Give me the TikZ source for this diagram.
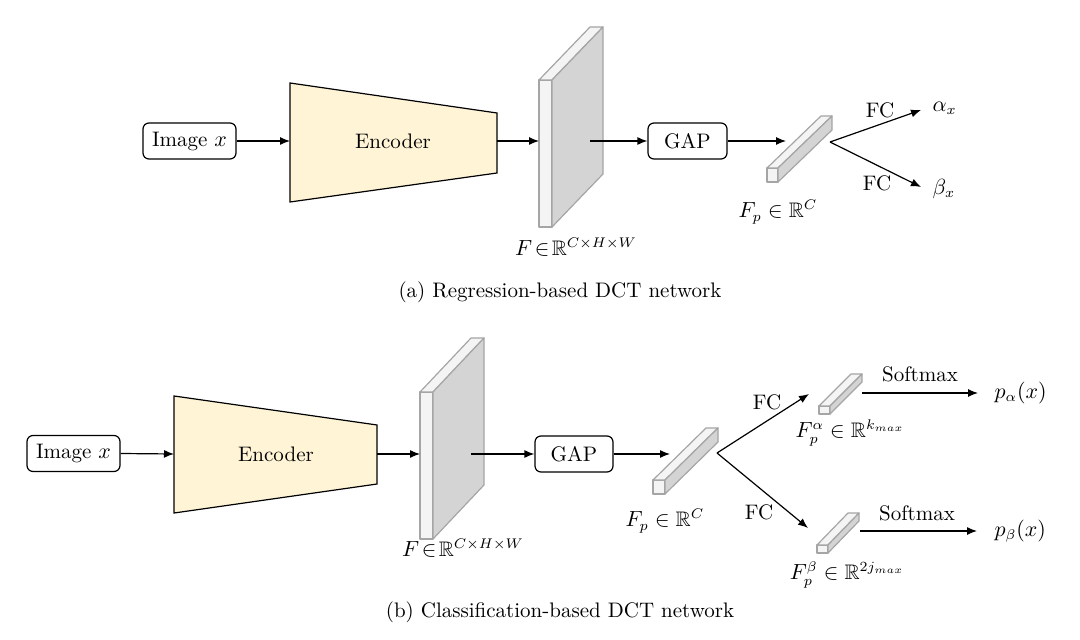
\documentclass[tikz,border=0pt]{standalone}
\usepackage{amsmath,amssymb}
\usetikzlibrary{arrows.meta}
\definecolor{encfill}{RGB}{255,245,214}
\definecolor{facelight}{RGB}{244,244,244}
\definecolor{faceside}{RGB}{212,212,212}
\definecolor{edgegray}{RGB}{165,165,165}
\newcommand{\mycub}[6]{%
  \filldraw[cubeedge,fill=facelight] (#1,#2) rectangle ({#1+#3},{#2+#4});
  \filldraw[cubeedge,fill=facelight] (#1,#2) -- ({#1+#5},{#2-#6}) -- ({#1+#3+#5},{#2-#6}) -- ({#1+#3},#2) -- cycle;
  \filldraw[cubeedge,fill=faceside] ({#1+#3},#2) -- ({#1+#3+#5},{#2-#6}) -- ({#1+#3+#5},{#2+#4-#6}) -- ({#1+#3},{#2+#4}) -- cycle;
}
\begin{document}
\begin{tikzpicture}[x=0.5pt,y=-0.5pt,
  font=\fontsize{10.5}{12.5}\selectfont,
  line width=0.6pt,
  cubeedge/.style={draw=edgegray,line width=0.6pt,line join=round},
  rbox/.style={draw,rounded corners=3pt,minimum height=18pt,inner sep=2pt,fill=white},
  arr/.style={-{Latex[length=5pt,width=4pt]}},
  enc/.style={draw,fill=encfill,line join=miter},
  lbl/.style={inner sep=1pt}]
\path[use as bounding box] (0,0) rectangle (1080,640);

% ---------------- (a) ----------------
\node[rbox,minimum width=46.5pt] (img1) at (189.5,141) {Image $x$};
\draw[enc] (290,83) -- (497,113) -- (497,173) -- (290,202) -- cycle;
\node (enc1) at (393,141) {Encoder};
\coordinate (enc1in) at (290,141);
\coordinate (enc1out) at (497,141);
\draw[arr] (img1.east) -- (enc1in);
\mycub{539}{80}{13}{147}{51}{53}
\coordinate (slab1in) at (539,141);
\coordinate (slab1c) at (590,141);
\draw[arr] (enc1out) -- (slab1in);
\node[lbl] (F1) at (576,247) {$F\!\in\!\mathbb{R}^{C\times H\times W}$};
\node[rbox,minimum width=39.5pt] (gap1) at (687.5,141) {GAP};
\draw[arr] (slab1c) -- (gap1.west);
\mycub{767}{168}{11}{14}{54}{52}
\coordinate (bar1in) at (786,141);
\draw[arr] (gap1.east) -- (bar1in);
\node[lbl] (Fp1) at (778,212) {$F_p\in\mathbb{R}^C$};
\coordinate (fork1) at (830,142);
\coordinate (ta) at (921,110);
\coordinate (tb) at (921,187);
\draw[arr] (fork1) -- (ta);
\draw[arr] (fork1) -- (tb);
\node[lbl] (fca) at (880,110) {FC};
\node[lbl] (fcb) at (877,183) {FC};
\node[lbl,anchor=west] (ax) at (930,108) {$\alpha_x$};
\node[lbl,anchor=west] (bx) at (930,189) {$\beta_x$};
\node (capa) at (560,292) {(a) Regression-based DCT network};

% ---------------- (b) ----------------
\node[rbox,minimum width=46.5pt] (img2) at (73.5,453.5) {Image $x$};
\draw[enc] (174,396) -- (377,425) -- (377,484) -- (174,513) -- cycle;
\node (enc2) at (276,454) {Encoder};
\coordinate (enc2in) at (174,454);
\coordinate (enc2out) at (377,454);
\draw[arr] (img2.east) -- (enc2in);
\mycub{420}{392}{13}{147}{51}{54}
\coordinate (slab2in) at (420,454);
\coordinate (slab2c) at (471,454);
\draw[arr] (enc2out) -- (slab2in);
\node[lbl] (F2) at (463,548) {$F\!\in\!\mathbb{R}^{C\times H\times W}$};
\node[rbox,minimum width=39pt] (gap2) at (574,454) {GAP};
\draw[arr] (slab2c) -- (gap2.west);
\mycub{653}{480}{12}{14}{53}{52}
\coordinate (bar2in) at (670,454);
\draw[arr] (gap2.east) -- (bar2in);
\node[lbl] (Fp2) at (665,521) {$F_p\in\mathbb{R}^C$};
\coordinate (fork2) at (717,453);
\coordinate (tu) at (809,394);
\coordinate (td) at (808,528);
\draw[arr] (fork2) -- (tu);
\draw[arr] (fork2) -- (td);
\node[lbl] (fcu) at (767,402) {FC};
\node[lbl] (fcd) at (759,512) {FC};
\mycub{819}{406}{11}{8}{32}{32}
\mycub{817}{545}{11}{8}{31}{32}
\node[lbl] (Fpa) at (850,433) {$F_p^{\alpha}\in\mathbb{R}^{k_{max}}$};
\node[lbl] (Fpb) at (847,575) {$F_p^{\beta}\in\mathbb{R}^{2j_{max}}$};
\coordinate (sa0) at (862,393);
\coordinate (sb0) at (860,531);
\node[lbl,anchor=west] (pa) at (992,393) {$p_\alpha(x)$};
\node[lbl,anchor=west] (pb) at (992,531) {$p_\beta(x)$};
\draw[arr] (sa0) -- (978,393) coordinate (sa1);
\draw[arr] (sb0) -- (977,531) coordinate (sb1);
\node[lbl] (sma) at (920,374) {Softmax};
\node[lbl] (smb) at (917,513) {Softmax};
\node (capb) at (560,612) {(b) Classification-based DCT network};
\end{tikzpicture}
\end{document}
